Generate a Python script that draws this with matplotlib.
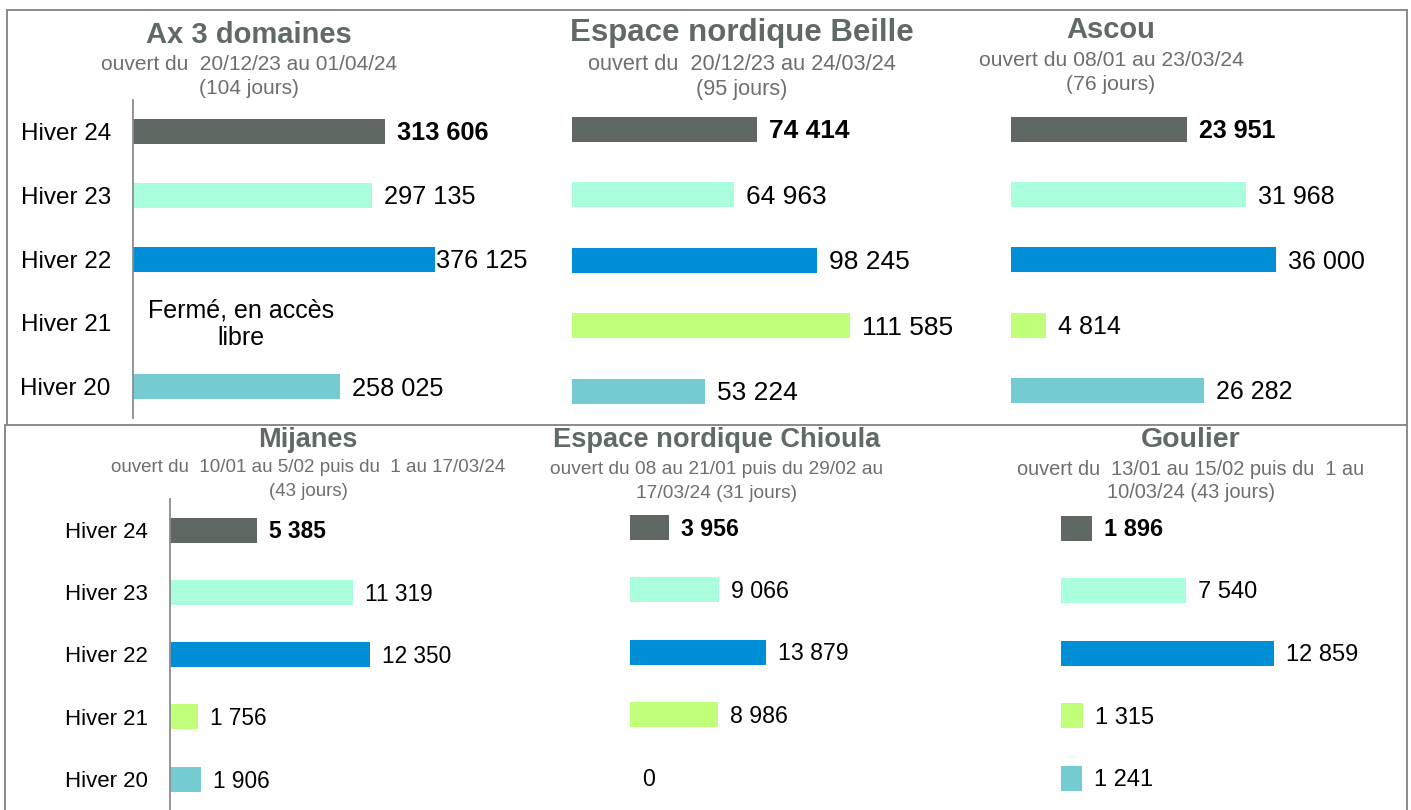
import matplotlib
matplotlib.use('Agg')
import matplotlib.pyplot as plt
from matplotlib.lines import Line2D

plt.rcParams['font.family'] = ['Liberation Sans', 'DejaVu Sans']

W, H = 1411, 810

categories = ['Hiver 24', 'Hiver 23', 'Hiver 22', 'Hiver 21', 'Hiver 20']
bar_colors = ['#5f6763', '#a9ffdc', '#008fd6', '#c1ff7a', '#74ccd2']

ax3_values = [313606, 297135, 376125, None, 258025]
beille_values = [74414, 64963, 98245, 111585, 53224]
ascou_values = [23951, 31968, 36000, 4814, 26282]
mijanes_values = [5385, 11319, 12350, 1756, 1906]
chioula_values = [3956, 9066, 13879, 8986, 0]
goulier_values = [1896, 7540, 12859, 1315, 1241]

titles = ['Ax 3 domaines', 'Espace nordique Beille', 'Ascou',
          'Mijanes', 'Espace nordique Chioula', 'Goulier']
subtitles = ['ouvert du  20/12/23 au 01/04/24\n(104 jours)',
             'ouvert du  20/12/23 au 24/03/24\n(95 jours)',
             'ouvert du 08/01 au 23/03/24\n(76 jours)',
             'ouvert du  10/01 au 5/02 puis du  1 au 17/03/24\n(43 jours)',
             'ouvert du 08 au 21/01 puis du 29/02 au\n17/03/24 (31 jours)',
             'ouvert du  13/01 au 15/02 puis du  1 au\n10/03/24 (43 jours)']
closed_note = 'Fermé, en accès\nlibre'

TITLE_C = '#5f6a66'
SUB_C = '#6e6e6e'


def fmt(v):
    return f'{v:,}'.replace(',', ' ')


fig = plt.figure(figsize=(W / 100, H / 100), dpi=100)

# panel layout (pixels)
panels = [
    dict(vals=ax3_values, x0=133, scale=0.000803, y0=131.5, dy=63.75, spine=True, labels=True,
         tfs=21, sfs=15, lfs=17.5, vfs=18.3, tx=249, ty=35, sy=[65, 89], lxmax=436),
    dict(vals=beille_values, x0=572, scale=0.00249, y0=129.5, dy=65.4, spine=False, labels=False,
         tfs=22.5, sfs=15.7, lfs=17.5, vfs=19, tx=742, ty=33, sy=[65, 90], lxmax=None),
    dict(vals=ascou_values, x0=1011, scale=0.00735, y0=129.5, dy=65.2, spine=False, labels=False,
         tfs=21, sfs=15.2, lfs=17.5, vfs=18, tx=1111, ty=30, sy=[60, 85], lxmax=None),
    dict(vals=mijanes_values, x0=170, scale=0.0162, y0=530, dy=62.25, spine=True, labels=True,
         tfs=19.5, sfs=13.5, lfs=16, vfs=16.3, tx=308, ty=440, sy=[468, 492], lxmax=None),
    dict(vals=chioula_values, x0=630, scale=0.0098, y0=527, dy=62.5, spine=False, labels=False,
         tfs=19.6, sfs=13.8, lfs=16, vfs=16.7, tx=717, ty=440, sy=[469, 493], lxmax=None),
    dict(vals=goulier_values, x0=1061, scale=0.0166, y0=528, dy=62.5, spine=False, labels=False,
         tfs=20.5, sfs=14.4, lfs=16, vfs=17, tx=1191, ty=440, sy=[469, 493], lxmax=None),
]

for k, p in enumerate(panels):
    wpx = 400
    top = p['y0'] - p['dy'] / 2
    bot = p['y0'] + 4.5 * p['dy']
    ax = fig.add_axes([p['x0'] / W, 1 - bot / H, wpx / W, (bot - top) / H])
    ax.set_xlim(0, wpx / p['scale'])
    ax.set_ylim(4.5, -0.5)
    ax.patch.set_alpha(0)
    for s in ['top', 'right', 'bottom']:
        ax.spines[s].set_visible(False)
    ax.spines['left'].set_visible(p['spine'])
    ax.spines['left'].set_color('#8c8c8c')
    ax.spines['left'].set_linewidth(1.3)
    ax.set_xticks([])
    ax.set_yticks(range(len(categories)))
    if p['labels']:
        ax.set_yticklabels(categories, fontsize=p['lfs'], color='black')
    else:
        ax.set_yticklabels([])
    ax.tick_params(axis='y', length=0, pad=16)

    bh = 25 / p['dy']
    for i, v in enumerate(p['vals']):
        if v is None:
            continue
        ax.barh(i, v, height=bh, color=bar_colors[i], edgecolor='none')
        end_px = p['x0'] + v * p['scale']
        off = 12
        if p['lxmax'] is not None:
            off = min(off, p['lxmax'] - end_px)
        ax.annotate(fmt(v), xy=(v, i), xytext=(off, -2), textcoords='offset pixels',
                    ha='left', va='center', fontsize=p['vfs'], color='black',
                    fontweight='bold' if i == 0 else 'normal', annotation_clip=False)
    # titles
    fig.text(p['tx'] / W, 1 - p['ty'] / H, titles[k], ha='center', va='center',
             fontsize=p['tfs'], fontweight='bold', color=TITLE_C)
    for line, yy in zip(subtitles[k].split('\n'), p['sy']):
        fig.text(p['tx'] / W, 1 - yy / H, line, ha='center', va='center',
                 fontsize=p['sfs'], color=SUB_C)

# note for the closed winter at Ax 3 domaines
fig.text(241 / W, 1 - 324 / H, closed_note, ha='center', va='center',
         fontsize=18, color='black', linespacing=1.2)

# frames
fc = '#8a8a8a'
def hline(y, x1, x2):
    fig.add_artist(Line2D([x1 / W, x2 / W], [1 - y / H, 1 - y / H], color=fc, lw=1.4))
def vline(x, y1, y2):
    fig.add_artist(Line2D([x / W, x / W], [1 - y1 / H, 1 - y2 / H], color=fc, lw=1.4))

hline(10, 7, 1407)
hline(425, 7, 1407)
vline(7, 10, 425)
vline(1407, 10, 810)
vline(5, 425, 810)

fig.savefig('out.png', dpi=100)
